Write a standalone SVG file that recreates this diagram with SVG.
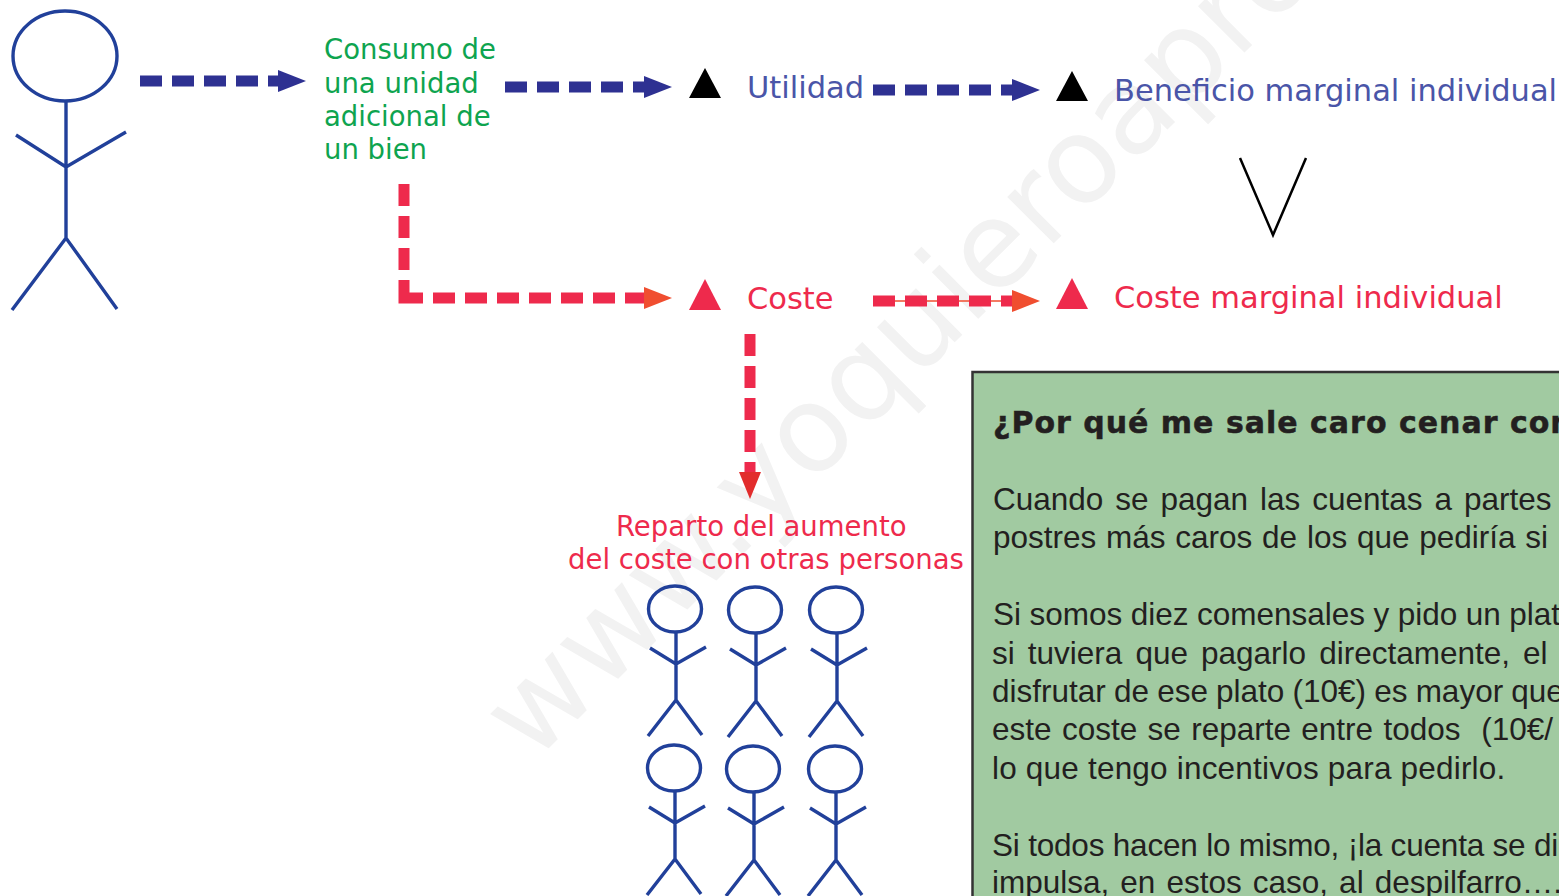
<svg xmlns="http://www.w3.org/2000/svg" width="1559" height="896" viewBox="0 0 1559 896">
<style>
.lab{font-family:"DejaVu Sans",Verdana,sans-serif;font-size:27.500px}
.big{font-size:30.500px}
.g{fill:#0ea44f}.b{fill:#4a55a8}.r{fill:#ee2a4c}
.body{font-family:"Liberation Sans",Arial,sans-serif;font-size:31.500px;fill:#231f20}
.head{font-family:"DejaVu Sans",sans-serif;font-weight:700;font-size:30px;letter-spacing:1px;fill:#231f20;stroke:#231f20;stroke-width:.5}
.fig{fill:none;stroke:#21409a;stroke-width:3.400}
.db{fill:none;stroke:#2e3192;stroke-width:11;stroke-dasharray:22 10}
.dr{fill:none;stroke:#ee2a4c;stroke-width:11;stroke-dasharray:22 10}
.hb{fill:#2e3192}.hr{fill:#f04e30}
.wm{font-family:"DejaVu Sans",sans-serif;font-size:120px;fill:#f2f2f2}
</style>
<defs>
<g id="person" class="fig"><ellipse cx="0" cy="0" rx="26.500" ry="23"/><path d="M1 23V91M-25 39L1 55L31 38M-27 127L1 91L27 126"/></g>
</defs>
<rect width="1559" height="896" fill="#fff"/>
<text class="wm" transform="translate(533 764) rotate(-45)">www.yoquieroapro</text>
<g id="connectors">
<path class="db" d="M140 81H282"/><path class="hb" d="M278 70L306 81L278 92Z"/>
<path class="db" d="M505 87H648"/><path class="hb" d="M644 76L672 87L644 98Z"/>
<path class="db" d="M873 90H1016"/><path class="hb" d="M1012 79L1040 90L1012 101Z"/>
<path class="dr" style="stroke-dasharray:22 10 22 10 22 10 37 10 22 10 22 10 22 10 22 10 22 10 22 10 30 10" d="M404 184V298H648"/><path class="hr" d="M644 287L672 298L644 309Z"/>
<path d="M873 301H1020" stroke="#f04e30" stroke-width="1.500"/>
<path class="dr" d="M873 301H1016"/><path class="hr" d="M1012 290L1040 301L1012 312Z"/>
<path class="dr" d="M750 334V476"/><path d="M739 472L761 472L750 499Z" fill="#e22c2c"/>
</g>
<g id="n-person-main" class="fig"><ellipse cx="65" cy="56" rx="52" ry="45"/><path d="M66 101V238M16 135L66 167L126 132M12 310L66 238L117 309"/></g>
<g id="n-consumo"><text class="lab g"><tspan x="324" y="59">Consumo de</tspan><tspan x="324" y="93">una unidad</tspan><tspan x="324" y="126">adicional de</tspan><tspan x="324" y="159">un bien</tspan></text></g>
<g id="n-utilidad"><path d="M705 68L721 98H689Z"/><text class="lab big b" x="747" y="98">Utilidad</text></g>
<g id="n-beneficio"><path d="M1072 71L1088 101H1056Z"/><text class="lab big b" x="1114" y="101">Beneficio marginal individual</text></g>
<g id="n-mayor"><path d="M1240 158L1273 235L1306 158" fill="none" stroke="#000" stroke-width="2.500"/></g>
<g id="n-coste"><path class="r" d="M705 279L721 310H689Z"/><text class="lab big r" x="747" y="309">Coste</text></g>
<g id="n-coste-marginal"><path class="r" d="M1072 278L1088 309H1056Z"/><text class="lab big r" x="1114" y="308">Coste marginal individual</text></g>
<g id="n-reparto"><text class="lab r"><tspan x="616" y="536">Reparto del aumento</tspan><tspan x="568" y="569">del coste con otras personas</tspan></text></g>
<g id="n-people">
<use href="#person" x="675" y="609"/><use href="#person" x="755" y="610"/><use href="#person" x="836" y="610"/>
<use href="#person" x="674" y="768"/><use href="#person" x="753" y="769"/><use href="#person" x="835" y="769"/>
</g>
<g id="n-box">
<rect x="972.500" y="372" width="600" height="540" fill="#a1caa1" stroke="#333" stroke-width="2.500"/>
<text class="head" x="993" y="433">¿Por qué me sale caro cenar con</text>
<text class="body" x="993" y="510" word-spacing="3.200">Cuando se pagan las cuentas a partes</text>
<text class="body" x="993" y="548" word-spacing="1">postres más caros de los que pediría si</text>
<text class="body" x="993" y="625" word-spacing="-.3">Si somos diez comensales y pido un plat</text>
<text class="body" x="992" y="664" word-spacing="4.300">si tuviera que pagarlo directamente, el</text>
<text class="body" x="992" y="702" word-spacing="-.6">disfrutar de ese plato (10€) es mayor que</text>
<text class="body" x="992" y="740" word-spacing="1.600">este coste se reparte entre todos &#160;(10€/</text>
<text class="body" x="992" y="779" letter-spacing=".2">lo que tengo incentivos para pedirlo.</text>
<text class="body" x="992" y="856" letter-spacing="-.2">Si todos hacen lo mismo, ¡la cuenta se di</text>
<text class="body" x="992" y="893" word-spacing="2.300">impulsa, en estos caso, al despilfarro….</text>
</g>
</svg>
